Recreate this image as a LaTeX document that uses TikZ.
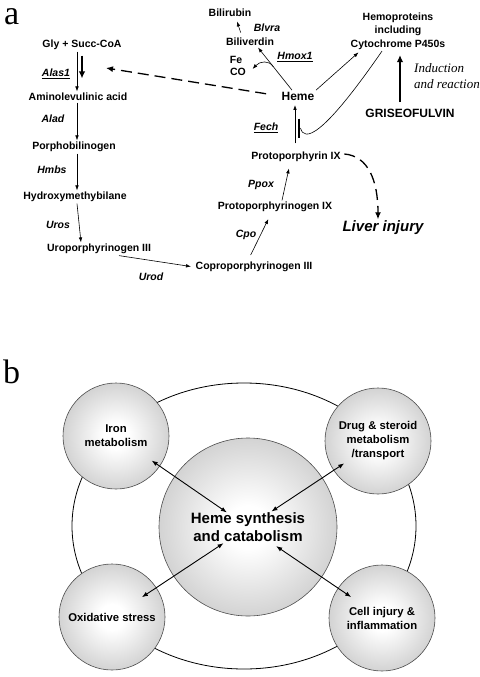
\documentclass[tikz,border=0pt]{standalone}
\usepackage{fontspec}
\setmainfont{Liberation Sans}
\newfontfamily\timesfont{Liberation Serif}
\usetikzlibrary{
    arrows.meta,
    calc
}
\pgfdeclareradialshading{orb}{\pgfpoint{0bp}{0bp}}{%
  color(0bp)=(white); color(6bp)=(white); color(50bp)=(gray!80)}
\tikzset{
  met/.style     = {font=\fontsize{10.5}{13.5}\selectfont\bfseries,
                    inner sep=1.5pt, align=center},
  enz/.style     = {font=\fontsize{10.5}{13}\selectfont\bfseries\itshape,
                    inner sep=1pt},
  arr/.style     = {-{Latex[length=5pt,width=3.6pt]}, line width=0.6pt},
  bigarr/.style  = {-{Latex[length=7pt,width=6.5pt]}, line width=1.6pt},
  darr/.style    = {-{Latex[length=7pt,width=6pt]}, line width=1.3pt,
                    dash pattern=on 11pt off 6pt},
  orbnode/.style = {circle, draw=gray!60!black, line width=0.6pt,
                    shading=orb, align=center, inner sep=0pt,
                    font=\fontsize{11.3}{14}\selectfont\bfseries},
  dbl/.style     = {{Latex[length=6pt,width=4.5pt]}-{Latex[length=6pt,width=4.5pt]},
                    line width=0.9pt},
  panel/.style   = {anchor=base west, inner sep=0pt,
                    font=\timesfont\fontsize{34}{34}\selectfont}
}

\begin{document}
\begin{tikzpicture}[x=1pt, y=-1pt]
    \useasboundingbox (0,0) rectangle (479,677);

    \node[panel] (pa) at (4,25) {a};
    \node[panel] (pb) at (3,383) {b};

    % metabolites
    \node[met] (gly)   at (82,45)   {Gly + Succ-CoA};
    \node[met] (ala)   at (78,97)   {Aminolevulinic acid};
    \node[met] (pbg)   at (74,147)  {Porphobilinogen};
    \node[met] (hmb)   at (75,197)  {Hydroxymethybilane};
    \node[met] (uro)   at (99,249)  {Uroporphyrinogen III};
    \node[met] (copro) at (254,267) {Coproporphyrinogen III};
    \node[met] (ppgen) at (275,207) {Protoporphyrinogen IX};
    \node[met] (pp)    at (296,157) {Protoporphyrin IX};
    \node[met, font=\fontsize{12}{14}\selectfont\bfseries] (heme) at (298,96) {Heme};
    \node[met] (bv)    at (250,42)  {Biliverdin};
    \node[met] (br)    at (230,13)  {Bilirubin};
    \node[met] (fe)    at (236,60)  {Fe};
    \node[met] (co)    at (238,72)  {CO};
    \node[met] (hp)    at (398,31)  {Hemoproteins\\including\\Cytochrome P450s};
    \node[met, font=\fontsize{12}{14}\selectfont\bfseries] (gris) at (410,113) {GRISEOFULVIN};
    \node[font=\timesfont\itshape\fontsize{13}{16}\selectfont, align=left,
          anchor=west, inner sep=0pt] (ind) at (414,76) {Induction\\and reaction};
    \node[font=\fontsize{15}{18}\selectfont\bfseries\itshape, inner sep=1.5pt]
          (liver) at (383,228) {Liver injury};

    % enzymes
    \node[enz] (alas)  at (56,74)   {\underline{Alas1}};
    \node[enz] (alad)  at (53,119)  {Alad};
    \node[enz] (hmbs)  at (52,170)  {Hmbs};
    \node[enz] (uros)  at (58,225)  {Uros};
    \node[enz] (urod)  at (151,277) {Urod};
    \node[enz] (cpo)   at (246,235) {Cpo};
    \node[enz] (ppox)  at (261,185) {Ppox};
    \node[enz] (fech)  at (266,128) {\underline{Fech}};
    \node[enz] (hmox)  at (295,57)  {\underline{Hmox1}};
    \node[enz] (blvra) at (267,28)  {Blvra};

    \draw[arr] ([xshift=-5pt]gly.south) -- ([xshift=-1pt]ala.north);
    \draw[bigarr, line width=1.5pt, shorten <=4pt, shorten >=13pt]
        (gly.south) -- ([xshift=4pt]ala.north);
    \draw[arr] ([xshift=-1pt]ala.south) -- ([xshift=3pt]pbg.north);
    \draw[arr] ([xshift=3pt]pbg.south) -- ([xshift=2pt]hmb.north);
    \draw[arr] ([xshift=2pt]hmb.south) -- ([xshift=-18pt]uro.north);
    \draw[arr, shorten >=3pt] ([xshift=20pt]uro.south) -- (copro.west);
    \draw[arr, shorten <=6pt, shorten >=6pt] ([xshift=-6pt]copro.north) -- ([xshift=-4pt]ppgen.south);
    \draw[arr, shorten >=5pt] ([xshift=7pt]ppgen.north) -- ([xshift=-6pt]pp.south);
    \draw[arr, line width=0.8pt, shorten <=7pt, shorten >=3pt]
        ([xshift=-1pt]pp.north) -- ([xshift=-3pt]heme.south);
    \draw[arr] ([xshift=-6pt]heme.north) -- coordinate[pos=0.55] (fork) ([xshift=8pt]bv.south);
    \draw[arr] (fork) .. controls (269,60) and (260,61) .. ([xshift=5pt,yshift=3pt]co.east);
    \draw[arr, shorten <=4pt, shorten >=3pt] ([xshift=-8pt]bv.north) -- ([xshift=6pt]br.south);
    \draw[arr, shorten >=2pt] (heme.north east) -- ([xshift=-38pt]hp.south);
    \draw[bigarr, line width=1.8pt, shorten <=5pt, shorten >=4pt]
        ([xshift=-10pt]gris.north) -- ([xshift=2pt]hp.south);

    % inhibition of Fech
    \coordinate (fbar) at (299,128);
    \draw[line width=1.3pt] ([yshift=9.5pt]fbar) -- ([yshift=-9.5pt]fbar);
    \draw[line width=0.6pt] ([xshift=1.5pt]fbar) .. controls (304,142) and (322,138) .. ([xshift=-16pt]hp.south);

    % feedback and injury
    \coordinate (alastip) at (106,68);
    \draw[darr, shorten <=14pt] (heme.west) -- (alastip);
    \draw[darr] ([xshift=2pt,yshift=3pt]pp.east) .. controls (368,156) and (378,180) .. ([xshift=-5pt]liver.north);

    % panel b
    \draw[line width=0.8pt] (244,526) ellipse [x radius=172pt, y radius=143pt];
    \node[orbnode, minimum size=178pt, font=\fontsize{15}{18}\selectfont\bfseries]
        (hsc) at (248,527) {Heme synthesis\\and catabolism};
    \node[orbnode, minimum size=106pt] (iron) at (116,436) {Iron\\metabolism};
    \node[orbnode, minimum size=106pt] (drug) at (378,441) {Drug \& steroid\\metabolism\\/transport};
    \node[orbnode, minimum size=106pt] (oxid) at (112,617) {Oxidative stress};
    \node[orbnode, minimum size=106pt] (cell) at (382,618) {Cell injury \&\\inflammation};

    \draw[dbl] ($(iron)!0.27!(hsc)$) -- ($(iron)!0.84!(hsc)$);
    \draw[dbl] ($(drug)!0.26!(hsc)$) -- ($(drug)!0.82!(hsc)$);
    \draw[dbl] ($(oxid)!0.22!(hsc)$) -- ($(oxid)!0.82!(hsc)$);
    \draw[dbl] ($(cell)!0.23!(hsc)$) -- ($(cell)!0.79!(hsc)$);
\end{tikzpicture}
\end{document}
